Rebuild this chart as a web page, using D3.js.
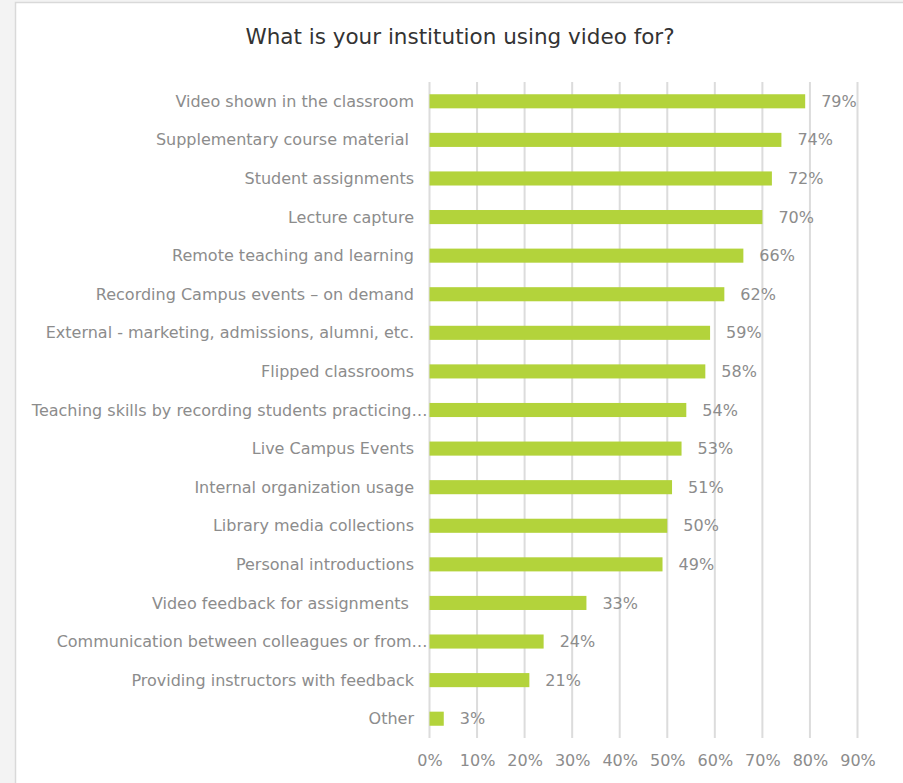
<!DOCTYPE html>
<html><head><meta charset="utf-8">
<script src="https://cdn.jsdelivr.net/npm/d3@7"></script>
<style>
html,body{margin:0;padding:0;background:#f3f3f3;}
svg{display:block;}
text{font-family:"DejaVu Sans",Verdana,sans-serif;}
</style></head>
<body>
<svg id="chart" width="903" height="783"></svg>
<script>
const categories = [
  "Video shown in the classroom",
  "Supplementary course material ",
  "Student assignments",
  "Lecture capture",
  "Remote teaching and learning",
  "Recording Campus events \u2013 on demand",
  "External - marketing, admissions, alumni, etc.",
  "Flipped classrooms",
  "Teaching skills by recording students practicing\u2026",
  "Live Campus Events",
  "Internal organization usage",
  "Library media collections",
  "Personal introductions",
  "Video feedback for assignments ",
  "Communication between colleagues or from\u2026",
  "Providing instructors with feedback",
  "Other"
];
const values = [79,74,72,70,66,62,59,58,54,53,51,50,49,33,24,21,3];
const tickValues = [0,10,20,30,40,50,60,70,80,90];
const title = "What is your institution using video for?";

const svg = d3.select("#chart");
// panel
svg.append("rect").attr("x",15.5).attr("y",2.5).attr("width",900).attr("height",800)
  .attr("fill","#fff").attr("stroke","#d9d9d9").attr("stroke-width",1.5);

const x = d3.scaleLinear().domain([0,90]).range([429.5,857.5]);
const y = d3.scaleBand().domain(categories).range([82,738]).paddingInner(0.635).paddingOuter(0.3175);

svg.append("text").attr("x",460).attr("y",44).attr("text-anchor","middle")
  .attr("font-size",21.5).attr("fill","#333").text(title);

// gridlines
svg.append("g").selectAll("line").data(tickValues).join("line")
  .attr("x1",d=>x(d)).attr("x2",d=>x(d)).attr("y1",82).attr("y2",738)
  .attr("stroke","#dcdcdc").attr("stroke-width",2);

// x axis labels
const xAxis = d3.axisBottom(x).tickValues(tickValues).tickSize(0).tickPadding(0).tickFormat(d=>d+"%");
const gx = svg.append("g").attr("transform","translate(0,766)").call(xAxis);
gx.select(".domain").remove();
gx.selectAll("text").attr("font-size",16).attr("fill","#8c8c8c").attr("dy",0)
  .style("font-family","\"DejaVu Sans\",Verdana,sans-serif");

// bars
svg.append("g").selectAll("rect").data(values).join("rect")
  .attr("x",x(0)).attr("y",(d,i)=>y(categories[i]))
  .attr("width",d=>x(d)-x(0)).attr("height",y.bandwidth())
  .attr("fill","#b3d33b");

// value labels
svg.append("g").selectAll("text").data(values).join("text")
  .attr("x",d=>x(d)+16).attr("y",(d,i)=>y(categories[i])+y.bandwidth()/2)
  .attr("dy","0.35em").attr("font-size",16).attr("fill","#8c8c8c")
  .text(d=>d+"%");

// category labels
svg.append("g").selectAll("text").data(categories).join("text")
  .attr("x",d=>d.endsWith("\u2026") ? x(0)-2 : x(0)-15.5)
  .attr("y",d=>y(d)+y.bandwidth()/2).attr("dy","0.35em")
  .attr("text-anchor","end").attr("font-size",16).attr("fill","#8c8c8c")
  .style("white-space","pre")
  .text(d=>d);
</script>
</body></html>
